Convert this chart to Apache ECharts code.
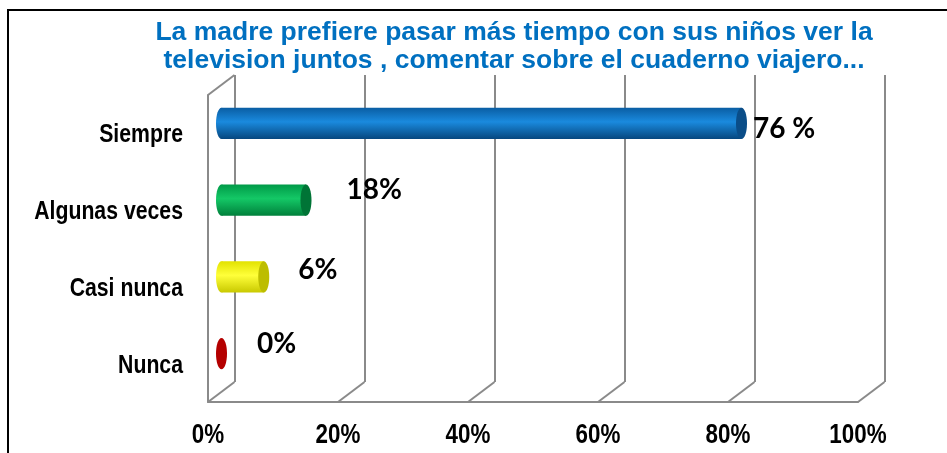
<!DOCTYPE html>
<html><head><meta charset="utf-8">
<script src="https://cdn.jsdelivr.net/npm/echarts@6/dist/echarts.min.js"></script>
<style>html,body{margin:0;padding:0;background:#fff}#c{width:947px;height:453px}</style>
</head><body><div id="c"></div>
<script>
// ---- data ----
const categories = ['Siempre', 'Algunas veces', 'Casi nunca', 'Nunca'];
const values = [80, 13, 6.5, 0];
const valueLabels = ['76 %', '18%', '6%', '0%'];
const xTicks = [0, 20, 40, 60, 80, 100];
const titleLines = ['La madre prefiere pasar más tiempo con sus niños ver la',
                    'television juntos , comentar sobre el cuaderno viajero...'];

// ---- styles ----
const palette = [
  {top: '#0a5ea4', mid: '#1a8ade', bot: '#06477f', cap: '#0a4d88'},
  {top: '#009a48', mid: '#14c866', bot: '#00803b', cap: '#007436'},
  {top: '#e2e200', mid: '#ffff3a', bot: '#c9c900', cap: '#bdbd00'},
  {top: '#b00000', mid: '#c00000', bot: '#900000', cap: '#b40000'}
];
const labelOffsets = [[6, 6], [35, -10], [29, -7], [30, -10]];
const DX = -26.5, DY = 20;
const GRID_COLOR = '#8a8a8a';
const sans = '"Liberation Sans", Arial, sans-serif';

const chart = echarts.init(document.getElementById('c'));

function renderBar(params, api) {
  const i = params.dataIndex;
  const v = api.value(0), c = api.value(1);
  const p0 = api.coord([0, c]);
  const p1 = api.coord([v, c]);
  const h = api.size([0, 1])[1] * 0.405;
  const rx = 5.5;
  const col = palette[i];
  const grad = () => new echarts.graphic.LinearGradient(0, 0, 0, 1, [
    {offset: 0, color: col.top}, {offset: 0.45, color: col.mid}, {offset: 1, color: col.bot}]);
  const children = [];
  if (p1[0] - p0[0] > 0.5) {
    children.push({type: 'ellipse', shape: {cx: p0[0], cy: p0[1], rx: rx, ry: h / 2}, style: {fill: grad()}});
    children.push({type: 'rect', shape: {x: p0[0], y: p0[1] - h / 2, width: p1[0] - p0[0], height: h}, style: {fill: grad()}});
  }
  children.push({type: 'ellipse', shape: {cx: p1[0], cy: p1[1], rx: rx, ry: h / 2}, style: {fill: col.cap}});
  children.push({type: 'text', style: {
    text: valueLabels[i], x: p1[0] + rx + labelOffsets[i][0], y: p1[1] + labelOffsets[i][1],
    align: 'left', verticalAlign: 'middle', fontSize: 28, fontWeight: 'bold',
    fontFamily: 'Lato, "Open Sans", sans-serif', fill: '#000'}});
  return {type: 'group', children: children};
}

function renderDepth(params, api) {
  const cs = params.coordSys;
  const x = api.coord([api.value(0), 0])[0];
  const bottom = cs.y + cs.height;
  const children = [{type: 'line', shape: {x1: x, y1: bottom, x2: x + DX, y2: bottom + DY},
    style: {stroke: GRID_COLOR, lineWidth: 2}}];
  if (params.dataIndex === 0) {
    children.push({type: 'line', shape: {x1: x, y1: cs.y, x2: x + DX, y2: cs.y + DY},
      style: {stroke: GRID_COLOR, lineWidth: 2}});
  }
  return {type: 'group', children: children};
}

// condensed category labels (left of the front wall)
function renderCatLabel(params, api) {
  const cs = params.coordSys;
  const y = api.coord([0, api.value(0)])[1];
  return {type: 'text', x: cs.x - 25, y: y + 2, scaleX: 0.85,
    style: {text: categories[params.dataIndex], x: 0, y: 0, align: 'right', verticalAlign: 'middle',
      fontSize: 25, fontWeight: 'bold', fontFamily: sans, fill: '#000'}};
}

// condensed tick labels under the floor
function renderTickLabel(params, api) {
  const cs = params.coordSys;
  const x = api.coord([api.value(0), 0])[0];
  return {type: 'text', x: x, y: cs.y + cs.height + 34, scaleX: 0.83,
    style: {text: api.value(0) + '%', x: 0, y: 0, align: 'center', verticalAlign: 'middle',
      fontSize: 27, fontWeight: 'bold', fontFamily: sans, fill: '#000'}};
}

chart.setOption({
  animation: false,
  backgroundColor: '#fff',
  graphic: [
    {type: 'rect', shape: {x: 8, y: 10, width: 1000, height: 500}, style: {fill: null, stroke: '#000', lineWidth: 2}, z: 0},
    {type: 'text', x: 514, y: 19, style: {text: titleLines.join('\n'), align: 'center', verticalAlign: 'top',
      fontSize: 26.5, lineHeight: 28, fontWeight: 'bold', fontFamily: sans, fill: '#0070C0'}}
  ],
  grid: [
    {left: 234.5, top: 75, width: 650, height: 307},
    {left: 208, top: 95, width: 650, height: 307},
    {left: 221.5, top: 85, width: 650, height: 307}
  ],
  xAxis: [
    {gridIndex: 0, type: 'value', min: 0, max: 100, interval: 20,
      axisLine: {show: false}, axisTick: {show: false}, axisLabel: {show: false},
      splitLine: {show: true, lineStyle: {color: GRID_COLOR, width: 2}}},
    {gridIndex: 1, type: 'value', min: 0, max: 100, interval: 20,
      axisLine: {show: true, lineStyle: {color: GRID_COLOR, width: 2}}, axisTick: {show: false},
      splitLine: {show: false}, axisLabel: {show: false}},
    {gridIndex: 2, type: 'value', min: 0, max: 100, show: false}
  ],
  yAxis: [
    {gridIndex: 0, type: 'category', data: categories, inverse: true, show: false},
    {gridIndex: 1, type: 'category', data: categories, inverse: true,
      axisLine: {show: true, lineStyle: {color: GRID_COLOR, width: 2}}, axisTick: {show: false},
      splitLine: {show: false}, axisLabel: {show: false}},
    {gridIndex: 2, type: 'category', data: categories, inverse: true, show: false}
  ],
  series: [
    {type: 'custom', xAxisIndex: 0, yAxisIndex: 0, renderItem: renderDepth,
      data: xTicks.map(t => [t]), silent: true, z: 1},
    {type: 'custom', xAxisIndex: 1, yAxisIndex: 1, renderItem: renderTickLabel,
      data: xTicks.map(t => [t]), silent: true, z: 3},
    {type: 'custom', xAxisIndex: 1, yAxisIndex: 1, renderItem: renderCatLabel,
      data: categories.map((c, i) => [i]), silent: true, z: 3},
    {type: 'custom', xAxisIndex: 2, yAxisIndex: 2, renderItem: renderBar,
      data: values.map((v, i) => [v, i]), z: 5}
  ]
});
</script>
</body></html>
